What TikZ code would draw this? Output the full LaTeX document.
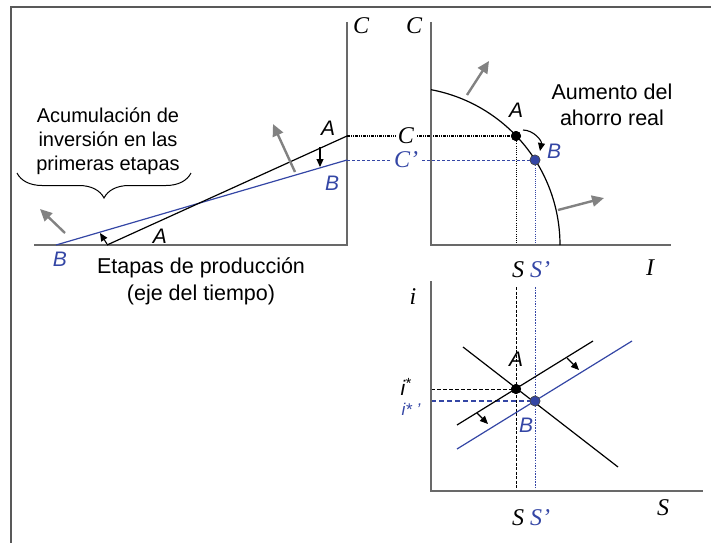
\documentclass[tikz,border=0pt]{standalone}
\usepackage{fontspec}
\setmainfont{Liberation Sans}
\newfontfamily\serfont{Liberation Serif}
\usetikzlibrary{arrows.meta,decorations.pathreplacing}

\definecolor{azul}{RGB}{52,70,165}
\definecolor{gris}{RGB}{130,130,130}
\definecolor{ejegris}{RGB}{105,105,105}

\tikzset{
  eje/.style={draw=ejegris,line width=1.5pt},
  recta/.style={line width=1.2pt},
  mueve/.style={-{Triangle[length=8pt,width=7pt]},line width=1.1pt},
  empuje/.style={-{Triangle[length=12pt,width=11pt]},draw=gris,fill=gris,line width=2.4pt},
  letra/.style={font=\fontsize{21}{22}\selectfont\itshape,inner sep=0pt},
  var/.style={font=\serfont\fontsize{24}{26}\selectfont\itshape,inner sep=0pt},
  texto/.style={align=center,inner sep=0pt},
  punto/.style={circle,fill=black,inner sep=0pt,minimum size=10pt},
  puntoB/.style={circle,fill=azul,draw=black!70,line width=0.6pt,inner sep=0pt,minimum size=10pt},
}

\begin{document}
\begin{tikzpicture}[x=1pt,y=-1pt]

\useasboundingbox (0,0) rectangle (711,543);

% marco
\coordinate(m0) at (11,7);
\coordinate(m1) at (711,7);
\coordinate(m2) at (11,543);
\draw[draw=black!65,line width=1.6pt] (m1) -- (m0) -- (m2);

%%%%%%%%%%%%%%%%%%%%%%%%
% etapas de produccion
%%%%%%%%%%%%%%%%%%%%%%%%

\begin{scope}

\coordinate(LO) at (347,245);
\coordinate(LY) at (347,22);
\coordinate(LX) at (34,245);
\draw[eje] (LY) -- (LO) -- (LX);
\node[var](LC) at (361,26) {C};

\coordinate(A0) at (107,245);
\coordinate(A1) at (347,136);
\coordinate(B0) at (56,245);
\coordinate(B1) at (347,160);

\draw[recta,azul] (B0) -- (B1);
\draw[recta] (A0) -- (A1);

\node[letra](lA1) at (328,128) {A};
\node[letra,azul](lB1) at (332,183) {B};
\node[letra](lA0) at (160,236) {A};
\node[letra,azul](lB0) at (60,259) {B};

\coordinate(d0) at (320,147);
\coordinate(d1) at (320,167);
\draw[mueve] (d0) -- (d1);
\coordinate(e0) at (107,244);
\coordinate(e1) at (100,233);
\draw[mueve] (e0) -- (e1);

\coordinate(g0) at (295,172);
\coordinate(g1) at (273,124);
\draw[empuje] (g0) -- (g1);
\coordinate(h0) at (65,233);
\coordinate(h1) at (40,209);
\draw[empuje] (h0) -- (h1);

\coordinate(br0) at (17,173);
\coordinate(br1) at (191,173);
\draw[line width=1pt,decorate,decoration={brace,amplitude=25pt,mirror}] (br0) -- (br1);

\node[texto,font=\fontsize{20}{24}\selectfont](tAcum) at (108,141) {Acumulación de\\inversión en las\\primeras etapas};
\node[texto,font=\fontsize{21.5}{27}\selectfont](tEtapas) at (201,281) {Etapas de producción\\(eje del tiempo)};

\end{scope}

%%%%%%%%%%%%%%%%%%%%%%%%
% frontera de posibilidades
%%%%%%%%%%%%%%%%%%%%%%%%

\begin{scope}

\coordinate(RO) at (431,245);
\coordinate(RY) at (431,22);
\coordinate(RX) at (671,245);
\node[var](RC) at (414,26) {C};
\node[var](RI) at (650,268) {I};

\node[punto](pA) at (516,136) {};
\node[puntoB](pB) at (535,160) {};

\coordinate(sA) at (516,245);
\coordinate(sB) at (535,245);
\draw[line width=0.9pt,dash pattern=on 1pt off 1.2pt] (pA) -- (sA);
\draw[azul,line width=0.9pt,dash pattern=on 1pt off 1.2pt] (pB) -- (sB);

\draw[line width=1.1pt,dash pattern=on 3pt off 1pt on 1pt off 1pt on 1pt off 1pt] (A1) -- node[var,pos=0.36,fill=white,inner sep=2pt](cA){C} (pA);
\draw[azul,line width=0.9pt,dash pattern=on 3pt off 2pt] (B1) -- node[var,pos=0.324,fill=white,inner sep=2pt,text=azul](cB){C’} (pB);

\draw[eje] (RY) -- (RO) -- (RX);

\draw[recta] plot[domain=79.4:0,samples=60] ({402+158*cos(\x)},{245-158*sin(\x)});

\node[punto] at (pA) {};
\node[puntoB] at (pB) {};

\node[letra](lA2) at (516,110) {A};
\node[letra,azul](lB2) at (554,151) {B};
\coordinate(k0) at (523,130);
\coordinate(k1) at (540,151);
\draw[mueve] (k0) to[bend left=50] (k1);

\coordinate(u0) at (467,95);
\coordinate(u1) at (489,61);
\draw[empuje] (u0) -- (u1);
\coordinate(v0) at (558,210);
\coordinate(v1) at (604,198);
\draw[empuje] (v0) -- (v1);

\node[texto,font=\fontsize{21.5}{26}\selectfont](tAum) at (612,105) {Aumento del\\ahorro real};

\node[var](lS1) at (518,270) {S};
\node[var,text=azul](lSp1) at (540,270) {S’};

\end{scope}

%%%%%%%%%%%%%%%%%%%%%%%%
% mercado de ahorro
%%%%%%%%%%%%%%%%%%%%%%%%

\begin{scope}

\coordinate(DO) at (431,491);
\coordinate(DY) at (431,281);
\coordinate(DX) at (703,491);
\node[var](li) at (413,297) {i};
\node[var](lS) at (663,508) {S};
\node[var](lS2) at (518,518) {S};
\node[var,text=azul](lSp2) at (540,518) {S’};

\node[punto](qA) at (516,389) {};
\node[puntoB](qB) at (535,401) {};

\coordinate(tA0) at (516,287);
\coordinate(tA1) at (516,491);
\coordinate(tB0) at (535,287);
\coordinate(tB1) at (535,491);
\draw[line width=0.9pt,dash pattern=on 3pt off 1.5pt] (tA0) -- (tA1);
\draw[azul,line width=0.9pt,dash pattern=on 1.5pt off 1.2pt] (tB0) -- (tB1);

\coordinate(iA) at (431,389);
\coordinate(iB) at (431,401);
\draw[line width=0.9pt,dash pattern=on 4pt off 2pt] (iA) -- (qA);
\draw[azul,line width=1.8pt,dash pattern=on 5pt off 3pt] (iB) -- (qB);

\coordinate(D0) at (463,347);
\coordinate(D1) at (618,467);
\coordinate(O0) at (457,425);
\coordinate(O1) at (593,341);
\coordinate(Q0) at (457,449);
\coordinate(Q1) at (632,341);
\draw[recta] (D0) -- (D1);
\draw[recta] (O0) -- (O1);
\draw[recta,azul] (Q0) -- (Q1);

\draw[eje] (DY) -- (DO) -- (DX);

\node[punto] at (qA) {};
\node[puntoB] at (qB) {};

\node[letra](lA3) at (516,359) {A};
\node[letra,azul](lB3) at (526,425) {B};
\node[letra](li1) at (406,387) {i\textsuperscript{*}};
\node[letra,text=azul,font=\fontsize{17}{18}\selectfont\itshape](li2) at (411,409) {i* ’};

\coordinate(w0) at (567,358);
\coordinate(w1) at (579,370);
\draw[mueve] (w0) -- (w1);
\coordinate(z0) at (477,413);
\coordinate(z1) at (488,424);
\draw[mueve] (z0) -- (z1);

\end{scope}

\end{tikzpicture}
\end{document}
